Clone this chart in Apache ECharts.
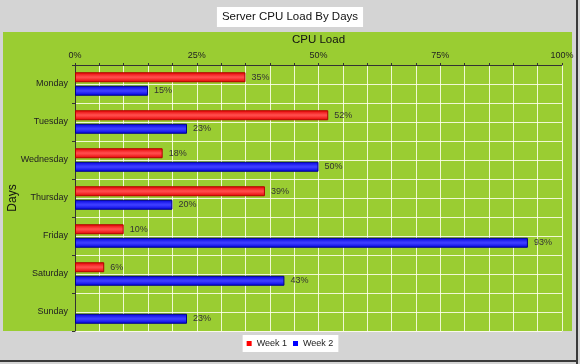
<!DOCTYPE html>
<html><head><meta charset="utf-8">
<script src="https://cdn.jsdelivr.net/npm/echarts@6/dist/echarts.min.js"></script>
<style>html,body{margin:0;padding:0;background:#d4d4d4;}#c{width:580px;height:364px;}</style>
</head><body><div id="c"></div>
<script>
var days = ['Monday','Tuesday','Wednesday','Thursday','Friday','Saturday','Sunday'];
var week1 = [35, 52, 18, 39, 10, 6, null];
var week2 = [15, 23, 50, 20, 93, 43, 23];
var seriesNames = ['Week 1', 'Week 2'];

var chart = echarts.init(document.getElementById('c'), null, {renderer:'canvas'});
var font = 'Liberation Sans, Arial, sans-serif';
function grad(c1, c2){
  return new echarts.graphic.LinearGradient(0,0,0,1,[
    {offset:0,color:c1},{offset:0.45,color:c2},{offset:0.55,color:c2},{offset:1,color:c1}]);
}
var labelCfg = {show:true, position:'right', distance:6, formatter:'{c}%', fontSize:9, color:'#333', fontFamily:font};
chart.setOption({
  backgroundColor:'#d4d4d4',
  animation:false,
  textStyle:{fontFamily:font},
  graphic:[
    {type:'rect', z:-10, shape:{x:3,y:32,width:569,height:299}, style:{fill:'#9acd32'}},
    {type:'rect', z:-10, shape:{x:576,y:0,width:2,height:364}, style:{fill:'#3a3a3a'}},
    {type:'rect', z:-10, shape:{x:0,y:360,width:578,height:2}, style:{fill:'#3a3a3a'}}
  ],
  title:{text:'Server CPU Load By Days', left:'center', top:7, backgroundColor:'#fff',
    padding:[4,5,4,5], textStyle:{fontSize:11.5, lineHeight:12, fontWeight:'normal', color:'#111', fontFamily:font}},
  legend:{data:[
      {name:seriesNames[0], itemStyle:{color:'#ff0000', borderWidth:0}},
      {name:seriesNames[1], itemStyle:{color:'#0000ff', borderWidth:0}}],
    bottom:12, left:'center', backgroundColor:'#fff', padding:[4,5,4,4],
    icon:'rect', itemWidth:5, itemHeight:5, itemGap:6, textStyle:{fontSize:9, color:'#222', fontFamily:font}},
  grid:{left:75, right:18, top:65, bottom:33, containLabel:false, outerBoundsMode:'none'},
  xAxis:{type:'value', position:'top', min:0, max:100, interval:5,
    name:'CPU Load', nameLocation:'middle', nameGap:19, nameMoveOverlap:false, nameTextStyle:{fontSize:11.5, color:'#111'},
    axisLine:{show:true, lineStyle:{color:'#333', width:1}},
    axisTick:{show:true, length:2, lineStyle:{color:'#333'}},
    axisLabel:{fontSize:9, color:'#222', margin:5, formatter:function(v){return v%25===0? v+'%':'';}},
    splitLine:{show:true, lineStyle:{color:'rgba(255,255,240,0.85)', width:1}}},
  yAxis:[
    {type:'category', data:days, inverse:true,
      name:'Days', nameLocation:'middle', nameGap:56, nameMoveOverlap:false, nameRotate:90, nameTextStyle:{fontSize:12, color:'#111'},
      axisLine:{show:true, lineStyle:{color:'#333'}},
      axisTick:{show:true, length:3, lineStyle:{color:'#333'}},
      axisLabel:{fontSize:9, color:'#222', margin:7},
      splitLine:{show:false}},
    {type:'value', min:0, max:14, interval:1, inverse:true, position:'left', offset:0,
      axisLine:{show:false}, axisTick:{show:false}, axisLabel:{show:false},
      splitLine:{show:true, lineStyle:{color:'rgba(255,255,240,0.85)', width:1}}}
  ],
  series:[
    {name:seriesNames[0], type:'bar', data:week1, barWidth:10, barGap:'35%',
      itemStyle:{color:grad('#e40000','#ff4a4a'), borderColor:'#b00000', borderWidth:1},
      label:labelCfg},
    {name:seriesNames[1], type:'bar', data:week2, barWidth:10, barGap:'35%',
      itemStyle:{color:grad('#0000dd','#3c3cff'), borderColor:'#00008a', borderWidth:1},
      label:labelCfg}
  ]
});
</script></body></html>
